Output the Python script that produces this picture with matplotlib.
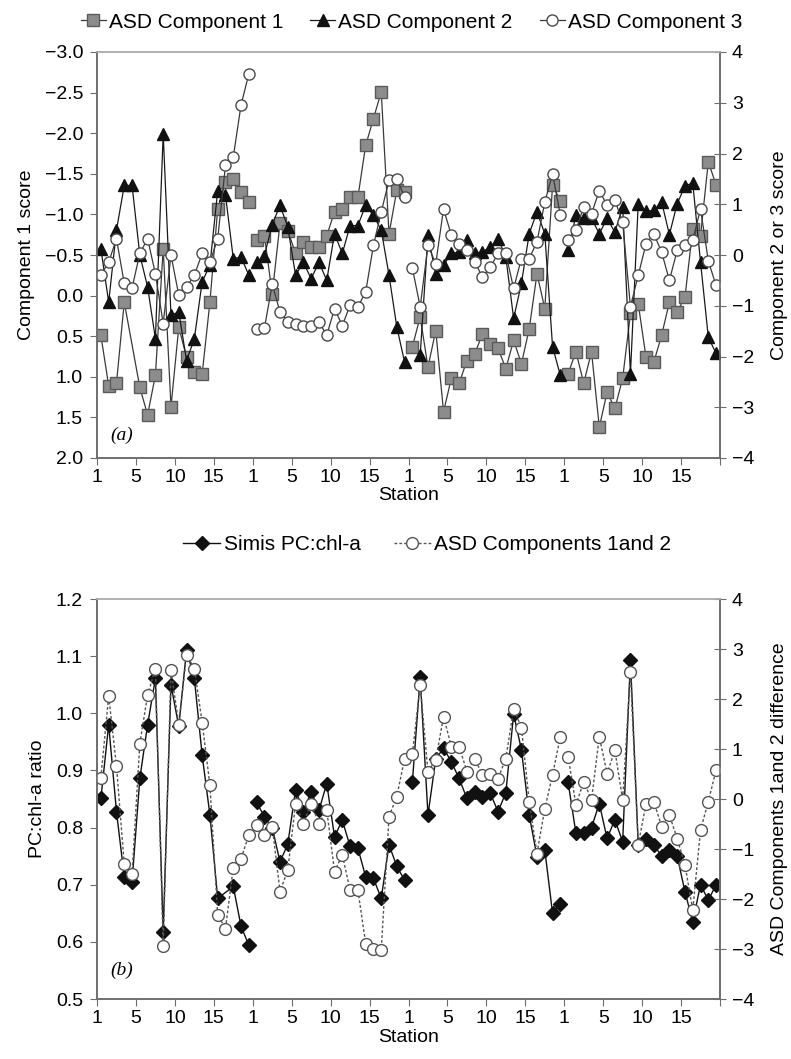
import numpy as np
import matplotlib
matplotlib.use("Agg")
import matplotlib.pyplot as plt
from matplotlib.lines import Line2D

plt.rcParams['font.family'] = ['Liberation Sans', 'DejaVu Sans']

nan = np.nan
n_groups = 4
group_size = 20

# Panel (a): ASD components (component 1 on left, inverted axis)
comp1 = [0.49, 1.11, 1.08, 0.08, nan, 1.13, 1.47, 0.98, -0.58, 1.37, 0.39, 0.76, 0.94, 0.97, 0.08, -1.07, -1.40, -1.44, -1.28, -1.15,
         -0.68, -0.74, -0.02, -0.89, -0.80, -0.52, -0.66, -0.60, -0.60, -0.74, -1.03, -1.07, -1.21, -1.21, -1.85, -2.18, -2.51, -0.76, -1.30, -1.28,
         0.63, 0.26, 0.88, 0.43, 1.43, 1.02, 1.08, 0.80, 0.72, 0.47, 0.59, 0.65, 0.90, 0.55, 0.84, 0.41, -0.27, 0.16, -1.36, -1.17,
         0.96, 0.69, 1.08, 0.69, 1.62, 1.19, 1.39, 1.02, 0.22, 0.10, 0.76, 0.82, 0.49, 0.08, 0.20, 0.02, -0.82, -0.74, -1.65, -1.36]
comp2 = [0.12, -0.93, 0.49, 1.37, 1.37, 0.0, -0.63, -1.65, 2.39, -1.19, -1.12, -2.08, -1.65, -0.53, -0.20, 1.27, 1.18, -0.07, -0.04, -0.40,
         -0.14, -0.01, 0.60, 0.98, 0.55, -0.40, -0.14, -0.47, -0.14, -0.50, 0.42, 0.03, 0.58, 0.58, 0.98, 0.78, 0.49, -0.40, -1.42, -2.11,
         nan, -1.98, 0.39, -0.38, -0.20, 0.03, 0.06, 0.29, 0.03, 0.06, 0.16, 0.32, -0.04, -1.25, -0.56, 0.42, 0.85, 0.42, -1.81, -2.37,
         0.10, 0.78, 0.72, 0.72, 0.42, 0.72, 0.45, 0.95, -2.34, 1.01, 0.86, 0.88, 1.05, 0.40, 1.01, 1.36, 1.42, -0.14, -1.62, -1.94]
comp3 = [-0.40, -0.14, 0.32, -0.56, -0.65, 0.03, 0.32, -0.37, -1.35, 0.0, -0.79, -0.63, -0.40, 0.03, -0.14, 0.32, 1.77, 1.93, 2.96, 3.57,
         -1.45, -1.44, -0.58, -1.12, -1.32, -1.35, -1.39, -1.39, -1.32, -1.58, -1.06, -1.39, -0.99, -1.02, -0.73, 0.19, 0.85, 1.47, 1.50, 1.14,
         -0.26, -1.02, 0.19, -0.17, 0.91, 0.39, 0.22, 0.09, -0.14, -0.43, -0.24, 0.03, 0.03, -0.66, -0.07, -0.07, 0.26, 1.04, 1.60, 0.78,
         0.29, 0.49, 0.95, 0.81, 1.27, 0.98, 1.08, 0.65, -1.02, -0.40, 0.22, 0.42, 0.06, -0.50, 0.09, 0.19, 0.29, 0.91, -0.12, -0.60]

# Panel (b): Simis PC:chl-a ratio (left) and ASD components 1 and 2 difference (right)
simis = [0.851, 0.98, 0.828, 0.714, 0.705, 0.886, 0.98, 1.061, 0.618, 1.05, 0.977, 1.111, 1.061, 0.927, 0.822, 0.676, nan, 0.697, 0.627, 0.594,
         0.844, 0.819, 0.80, 0.74, 0.771, 0.866, 0.828, 0.863, 0.83, 0.877, 0.784, 0.813, 0.767, 0.764, 0.714, 0.711, 0.676, 0.77, 0.732, 0.708,
         0.88, 1.063, 0.822, 0.92, 0.939, 0.915, 0.886, 0.851, 0.863, 0.854, 0.86, 0.828, 0.861, 0.999, 0.936, 0.822, 0.749, 0.761, 0.65, 0.667,
         0.879, 0.79, 0.79, 0.80, 0.842, 0.781, 0.814, 0.775, 1.094, 0.77, 0.78, 0.77, 0.75, 0.76, 0.75, 0.688, 0.635, 0.70, 0.673, 0.70]
asd_diff = [0.43, 2.06, 0.66, -1.30, -1.50, 1.11, 2.08, 2.61, -2.94, 2.58, 1.49, 2.88, 2.61, 1.53, 0.28, -2.32, -2.59, -1.37, -1.19, -0.72,
            -0.52, -0.72, -0.55, -1.85, -1.42, -0.09, -0.49, -0.09, -0.49, -0.22, -1.45, -1.12, -1.82, -1.82, -2.89, -2.99, -3.02, -0.35, 0.05, 0.81,
            0.91, 2.28, 0.55, 0.78, 1.65, 1.05, 1.05, 0.55, 0.81, 0.48, 0.51, 0.41, 0.81, 1.81, 1.43, -0.05, -1.09, -0.19, 0.48, 1.25,
            0.85, -0.12, 0.35, -0.02, 1.25, 0.51, 0.98, -0.02, 2.55, -0.92, -0.09, -0.05, -0.55, -0.32, -0.79, -1.32, -2.22, -0.62, -0.05, 0.58]

tick_labels = ['1', '5', '10', '15'] * n_groups + ['']

x = np.arange(n_groups * group_size) + 0.5

FS = 14


def plot_grouped(ax, values, **kw):
    values = np.asarray(values, dtype=float)
    for g in range(n_groups):
        sl = slice(g * group_size, (g + 1) * group_size)
        xs, ys = x[sl], values[sl]
        ok = ~np.isnan(ys)
        ax.plot(xs[ok], ys[ok], **kw)


def style_axes(ax, ax2):
    for a in (ax, ax2):
        for s in a.spines.values():
            s.set_color('#6e6e6e')
            s.set_linewidth(1.2)
        a.spines['top'].set_color('#b0b0b0')
    ax.set_xlim(0, 80)
    ax.set_xticks(np.arange(0, 81, 5))
    ax.set_xticklabels(tick_labels)
    ax.tick_params(axis='x', direction='out', length=5, color='#6e6e6e', labelsize=FS, pad=3)
    ax.tick_params(axis='y', direction='out', length=5, color='#6e6e6e', labelsize=FS, pad=5)
    ax2.tick_params(axis='y', direction='inout', length=9, color='#6e6e6e', labelsize=FS, pad=4)
    ax.set_xlabel('Station', fontsize=FS, labelpad=1)


fig = plt.figure(figsize=(7.91, 10.59), dpi=100)

# ---- panel (a)
ax_a = fig.add_axes([97 / 791, 1 - 458 / 1059, 623 / 791, 406 / 1059])
ax_a2 = ax_a.twinx()
plot_grouped(ax_a, comp1, color='#3a3a3a', lw=0.9, marker='s', ms=8.5,
             mfc='#8c8c8c', mec='#5a5a5a', mew=1.0)
plot_grouped(ax_a2, comp2, color='#1a1a1a', lw=0.9, marker='^', ms=9,
             mfc='#111111', mec='#111111')
plot_grouped(ax_a2, comp3, color='#3a3a3a', lw=0.9, marker='o', ms=8,
             mfc='white', mec='#4a4a4a', mew=1.0)
ax_a.set_ylim(2.0, -3.0)
ax_a.set_yticks(np.arange(-3.0, 2.01, 0.5))
ax_a.set_yticklabels([f'{v:.1f}'.replace('-', '\u2212') for v in np.arange(-3.0, 2.01, 0.5)])
ax_a2.set_ylim(-4, 4)
ax_a2.set_yticks(range(-4, 5))
ax_a.set_ylabel('Component 1 score', fontsize=FS, labelpad=7)
ax_a2.set_ylabel('Component 2 or 3 score', fontsize=FS, labelpad=12)
style_axes(ax_a, ax_a2)
ax_a.text(0.022, 0.045, '(a)', transform=ax_a.transAxes, fontsize=14,
          fontstyle='italic', family='Liberation Serif')

leg_a = [
    Line2D([], [], color='#3a3a3a', lw=0.9, marker='s', ms=8.5, mfc='#8c8c8c', mec='#5a5a5a'),
    Line2D([], [], color='#1a1a1a', lw=0.9, marker='^', ms=9, mfc='#111111', mec='#111111'),
    Line2D([], [], color='#3a3a3a', lw=0.9, marker='o', ms=8, mfc='white', mec='#4a4a4a'),
]
fig.legend(leg_a, ['ASD Component 1', 'ASD Component 2', 'ASD Component 3'],
           loc='center', bbox_to_anchor=(0.52, 0.979), ncol=3, frameon=False,
           fontsize=15, handlelength=1.2, handletextpad=0.15, columnspacing=1.3)

# ---- panel (b)
ax_b = fig.add_axes([97 / 791, 1 - 999 / 1059, 623 / 791, 400 / 1059])
ax_b2 = ax_b.twinx()
plot_grouped(ax_b, simis, color='#111111', lw=1.0, marker='D', ms=7,
             mfc='#111111', mec='#111111')
plot_grouped(ax_b2, asd_diff, color='#555555', lw=1.0, ls=(0, (2, 1.5)), marker='o', ms=8.5,
             mfc='white', mec='#555555', mew=1.0)
ax_b.set_ylim(0.5, 1.2)
ax_b.set_yticks(np.arange(0.5, 1.21, 0.1))
ax_b.set_yticklabels([f'{v:.1f}' for v in np.arange(0.5, 1.21, 0.1)])
ax_b2.set_ylim(-4, 4)
ax_b2.set_yticks(range(-4, 5))
ax_b2.set_yticklabels([str(v).replace('-', '\u2212') for v in range(-4, 5)])
ax_b.set_ylabel('PC:chl-a ratio', fontsize=FS, labelpad=7)
ax_b2.set_ylabel('ASD Components 1and 2 difference', fontsize=FS, labelpad=12)
style_axes(ax_b, ax_b2)
ax_b.text(0.022, 0.06, '(b)', transform=ax_b.transAxes, fontsize=14,
          fontstyle='italic', family='Liberation Serif')

leg_b = [
    Line2D([], [], color='#111111', lw=1.0, marker='D', ms=7, mfc='#111111', mec='#111111'),
    Line2D([], [], color='#555555', lw=1.0, ls=(0, (2, 1.5)), marker='o', ms=8.5, mfc='white', mec='#555555'),
]
fig.legend(leg_b, ['Simis PC:chl-a', 'ASD Components 1and 2'],
           loc='center', bbox_to_anchor=(0.54, 0.4855), ncol=2, frameon=False,
           fontsize=15, handlelength=1.8, handletextpad=0.15, columnspacing=1.6)

fig.savefig('out.png', dpi=100)
